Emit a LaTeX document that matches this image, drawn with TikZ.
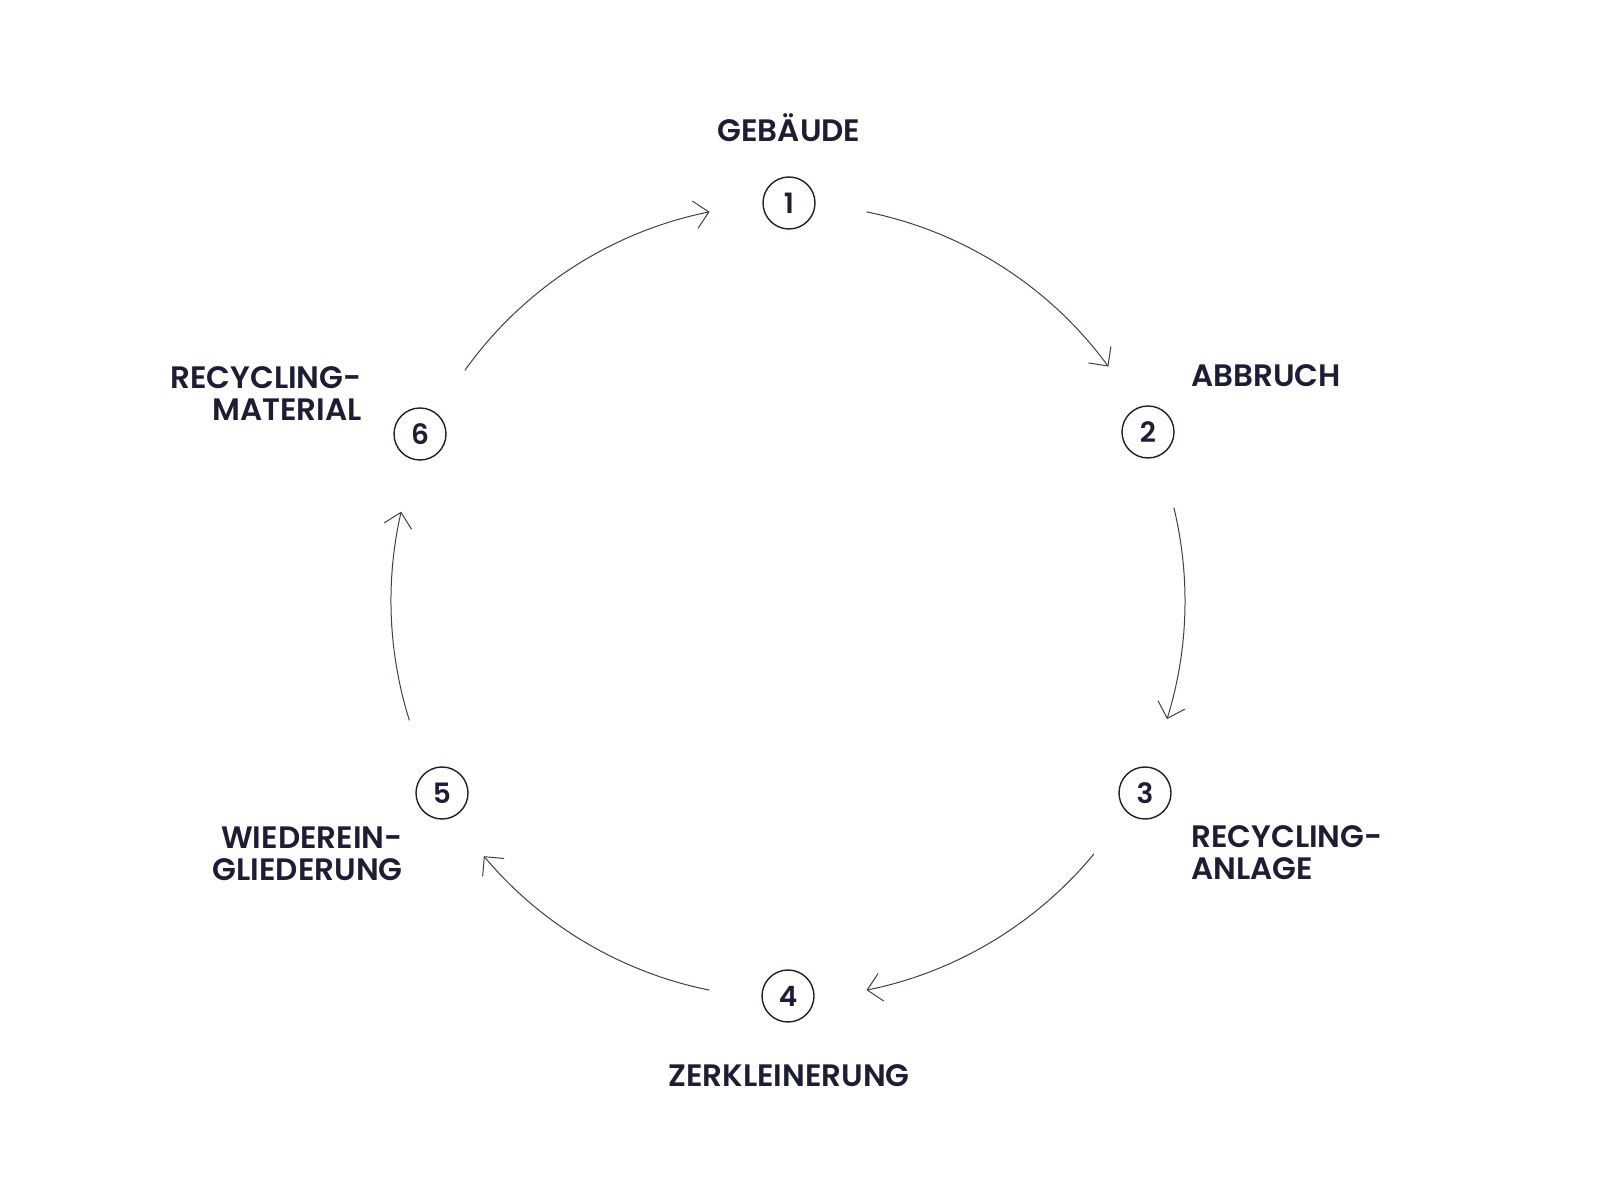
\documentclass[tikz,border=0pt]{standalone}
\usepackage{fontspec}
\setmainfont{Poppins}[UprightFont=* SemiBold]
\usetikzlibrary{arrows.meta,calc}
\definecolor{ink}{HTML}{1D1D35}
\begin{document}
\begin{tikzpicture}[x=0.5pt,y=0.5pt,
  num/.style={circle,draw=ink,line width=0.7pt,minimum size=26pt,inner sep=0pt,text=ink,font=\fontsize{14}{14}\selectfont},
  lab/.style={text=ink,font=\fontsize{15.5}{16}\selectfont,inner sep=0pt},
  flow/.style={draw=ink!85,line width=0.5pt,-{Straight Barb[length=7pt,width=14pt,line width=0.5pt]}}]
\useasboundingbox (0,0) rectangle (1600,1200);
\fill[white] (0,0) rectangle (1600,1200);
\coordinate (C) at (788,599);
\node[num] (n1) at (789,997) {1};
\node[num] (n2) at (1148,768) {2};
\node[num] (n3) at (1145,407) {3};
\node[num] (n4) at (788,204) {4};
\node[num] (n5) at (442,407) {5};
\node[num] (n6) at (420,766) {6};
\node[lab] (l1) at (789,1072) {GEBÄUDE};
\node[lab,anchor=west] (l2) at (1191,824) {ABBRUCH};
\node[lab,anchor=west,align=left] (l3) at (1191,347) {RECYCLING-\\ANLAGE};
\node[lab] (l4) at (789,124) {ZERKLEINERUNG};
\node[lab,anchor=east,align=right] (l5) at (403,346) {WIEDEREIN-\\GLIEDERUNG};
\node[lab,anchor=east,align=right] (l6) at (362,806) {RECYCLING-\\MATERIAL};
\draw[flow] ($(C)+(78.6:397)$) arc[start angle=78.6,end angle=36.2,radius=397];
\draw[flow] ($(C)+(13.6:397)$) arc[start angle=13.6,end angle=-17.3,radius=397];
\draw[flow] ($(C)+(-39.6:397)$) arc[start angle=-39.6,end angle=-78.6,radius=397];
\draw[flow] ($(C)+(-101.4:397)$) arc[start angle=-101.4,end angle=-140,radius=397];
\draw[flow] ($(C)+(197.5:397)$) arc[start angle=197.5,end angle=167,radius=397];
\draw[flow] ($(C)+(144.5:397)$) arc[start angle=144.5,end angle=101.4,radius=397];
\end{tikzpicture}
\end{document}
